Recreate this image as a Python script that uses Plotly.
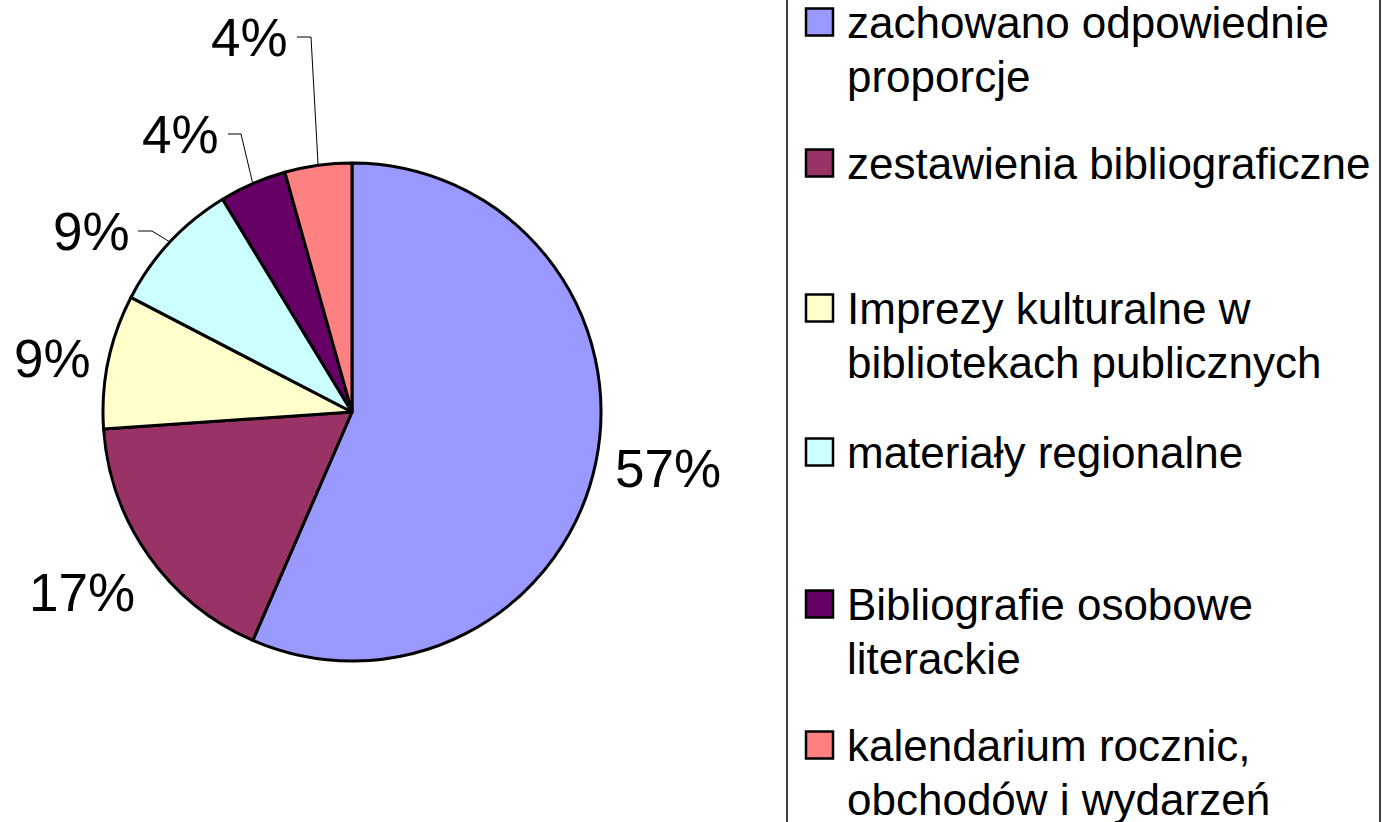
import math
import plotly.graph_objects as go

W, H = 1382, 822

# ---------------- data ----------------
categories = [
    "zachowano odpowiednie proporcje",
    "zestawienia bibliograficzne",
    "Imprezy kulturalne w bibliotekach publicznych",
    "materiały regionalne",
    "Bibliografie osobowe literackie",
    "kalendarium rocznic, obchodów i wydarzeń",
]
values = [13, 4, 2, 2, 1, 1]
legend_lines = [
    ["zachowano odpowiednie", "proporcje"],
    ["zestawienia bibliograficzne"],
    ["Imprezy kulturalne w", "bibliotekach publicznych"],
    ["materiały regionalne"],
    ["Bibliografie osobowe", "literackie"],
    ["kalendarium rocznic,", "obchodów i wydarzeń"],
]
colors = ["#9999FF", "#993366", "#FFFFCC", "#CCFFFF", "#660066", "#FF8080"]

# ---------------- style / layout (pixels) ----------------
FONT = "Liberation Sans, Arial, sans-serif"
PIE_CX, PIE_CY, PIE_R = 352, 412, 249
LABEL_FONT = 53
LEGEND_FONT = 44
# label centers (pixel) per slice and whether a leader line is drawn
label_pos = [(668, 468), (82, 592), (52, 358), (91, 231), (180, 134), (249, 37)]
leader = [None, None, None, (138, 152), (228, 241), (297, 311)]  # horizontal segment x-range
legend_first_baseline = [34, 175, 320, 464, 616, 757]
LEGEND_LINE_GAP = 54
LEGEND_TEXT_X = 845
LEGEND_SQ_X0, LEGEND_SQ = 806, 27


def px(x):
    return x / W


def py(y):
    return 1 - y / H


total = sum(values)
pct = [f"{round(v / total * 100)}%" for v in values]

fig = go.Figure(
    go.Pie(
        labels=categories,
        values=values,
        sort=False,
        direction="clockwise",
        rotation=0,
        marker=dict(colors=colors, line=dict(color="#000000", width=3)),
        textinfo="none",
        hoverinfo="none",
        showlegend=False,
        domain=dict(
            x=[px(PIE_CX - PIE_R), px(PIE_CX + PIE_R)],
            y=[py(PIE_CY + PIE_R), py(PIE_CY - PIE_R)],
        ),
    )
)

annotations = []
shapes = []

# percentage labels + leader lines
cum = 0
for i, v in enumerate(values):
    mid = (cum + v / 2) / total * 2 * math.pi
    cum += v
    lx, ly = label_pos[i]
    annotations.append(
        dict(
            x=px(lx), y=py(ly), xref="paper", yref="paper",
            text=pct[i], showarrow=False, xanchor="center", yanchor="middle",
            font=dict(family=FONT, size=LABEL_FONT, color="#000000"),
        )
    )
    if leader[i] is not None:
        ex = PIE_CX + PIE_R * math.sin(mid)
        ey = PIE_CY - PIE_R * math.cos(mid)
        x0, x1 = leader[i]
        path = f"M {px(x0)} {py(ly)} L {px(x1)} {py(ly)} L {px(ex)} {py(ey)}"
        shapes.append(
            dict(type="path", xref="paper", yref="paper", path=path,
                 line=dict(color="#000000", width=1))
        )

# legend frame
shapes.append(
    dict(type="rect", xref="paper", yref="paper",
         x0=px(787), x1=px(1380), y0=-0.05, y1=1.05,
         line=dict(color="#000000", width=1.5), fillcolor="rgba(0,0,0,0)")
)

# legend entries
for i, lines in enumerate(legend_lines):
    base = legend_first_baseline[i]
    sq_c = base - 12
    shapes.append(
        dict(type="rect", xref="paper", yref="paper",
             x0=px(LEGEND_SQ_X0), x1=px(LEGEND_SQ_X0 + LEGEND_SQ),
             y0=py(sq_c + LEGEND_SQ / 2), y1=py(sq_c - LEGEND_SQ / 2),
             line=dict(color="#000000", width=2.5), fillcolor=colors[i])
    )
    for j, line in enumerate(lines):
        b = base + j * LEGEND_LINE_GAP
        annotations.append(
            dict(
                x=px(LEGEND_TEXT_X), y=py(b - 0.27 * LEGEND_FONT), xref="paper", yref="paper",
                text=line, showarrow=False, xanchor="left", yanchor="middle",
                font=dict(family=FONT, size=LEGEND_FONT, color="#000000"),
            )
        )

fig.update_layout(
    width=W, height=H,
    margin=dict(l=0, r=0, t=0, b=0),
    paper_bgcolor="#FFFFFF", plot_bgcolor="#FFFFFF",
    annotations=annotations, shapes=shapes,
    showlegend=False,
)

fig.write_html(
    "out.html",
    config={"displayModeBar": False, "staticPlot": True},
    post_script="document.body.style.margin='0';document.body.style.padding='0';"
                "document.body.style.overflow='hidden';",
)
